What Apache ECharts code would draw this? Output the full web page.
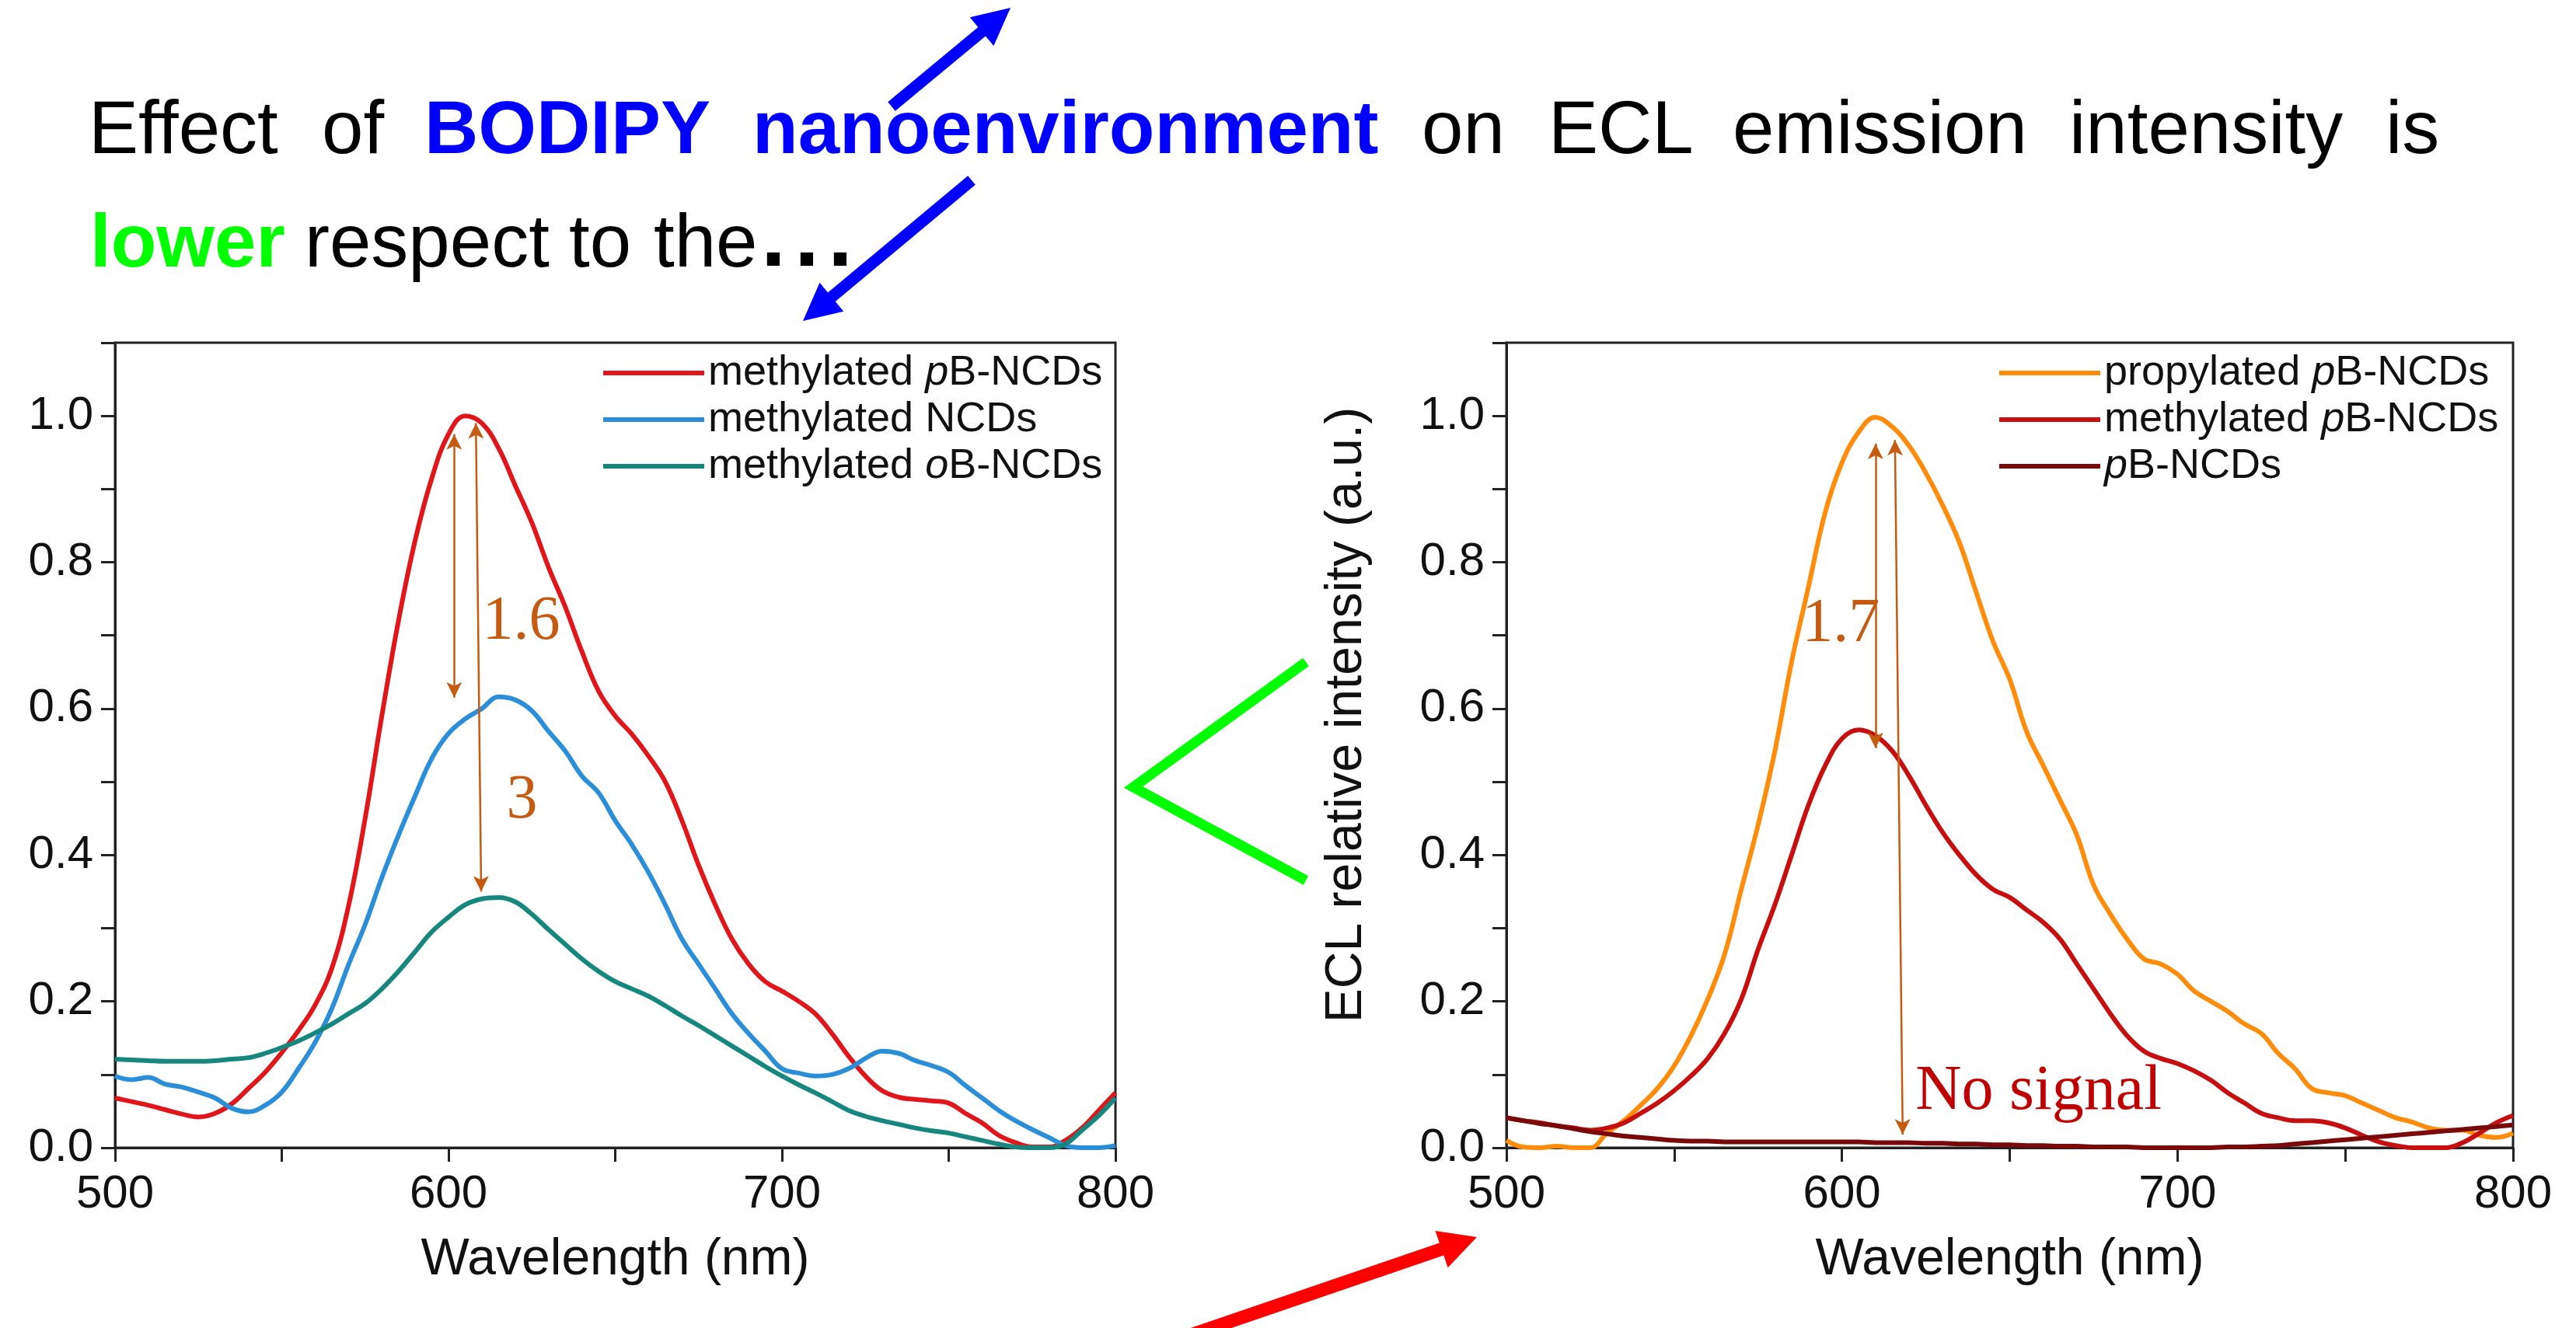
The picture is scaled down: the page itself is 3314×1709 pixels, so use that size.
<!DOCTYPE html>
<html>
<head>
<meta charset="utf-8">
<title>ECL emission spectra</title>
<script src="https://cdn.jsdelivr.net/npm/echarts@6/dist/echarts.min.js"></script>
<style>
  html, body { margin: 0; padding: 0; background: #fff; }
  #chart { width: 3314px; height: 1709px; }
</style>
</head>
<body>
<div id="chart"></div>
<script>
// wavelength grid (nm), shared by every curve
const wavelength = [500, 505, 510, 515, 520, 525, 530, 535, 540, 545, 550, 555, 560, 565, 570, 575, 580, 585, 590, 595,
  600, 605, 610, 615, 620, 625, 630, 635, 640, 645, 650, 655, 660, 665, 670, 675, 680, 685, 690, 695,
  700, 705, 710, 715, 720, 725, 730, 735, 740, 745, 750, 755, 760, 765, 770, 775, 780, 785, 790, 795, 800]

// left panel
const leftMethylPB = [0.068, 0.063, 0.058, 0.052, 0.046, 0.042, 0.047, 0.060, 0.081, 0.103, 0.130, 0.160, 0.195, 0.245, 0.330, 0.450, 0.590, 0.720, 0.830, 0.915,
  0.975, 1.000, 0.990, 0.956, 0.905, 0.854, 0.793, 0.739, 0.678, 0.624, 0.590, 0.565, 0.535, 0.500, 0.447, 0.386, 0.332, 0.285, 0.251, 0.227,
  0.214, 0.200, 0.183, 0.156, 0.125, 0.098, 0.078, 0.069, 0.066, 0.064, 0.061, 0.047, 0.034, 0.017, 0.007, 0.001, 0.001, 0.010, 0.027, 0.051, 0.075]
const leftMethylNCD = [0.098, 0.093, 0.096, 0.087, 0.083, 0.076, 0.068, 0.054, 0.049, 0.058, 0.076, 0.108, 0.144, 0.190, 0.250, 0.305, 0.369, 0.427, 0.481, 0.532,
  0.566, 0.586, 0.600, 0.616, 0.612, 0.597, 0.569, 0.542, 0.508, 0.485, 0.447, 0.414, 0.376, 0.332, 0.285, 0.251, 0.217, 0.183, 0.156, 0.132,
  0.108, 0.102, 0.098, 0.100, 0.108, 0.122, 0.132, 0.129, 0.119, 0.112, 0.103, 0.085, 0.068, 0.051, 0.037, 0.025, 0.014, 0.003, 0.000, 0.000, 0.003]
const leftMethylOB = [0.121, 0.120, 0.119, 0.118, 0.118, 0.118, 0.119, 0.121, 0.123, 0.129, 0.137, 0.146, 0.157, 0.169, 0.183, 0.197, 0.217, 0.241, 0.268, 0.295,
  0.315, 0.332, 0.340, 0.342, 0.336, 0.319, 0.298, 0.278, 0.258, 0.241, 0.227, 0.217, 0.207, 0.194, 0.180, 0.167, 0.153, 0.139, 0.125, 0.111,
  0.098, 0.086, 0.075, 0.063, 0.051, 0.043, 0.037, 0.032, 0.027, 0.023, 0.020, 0.015, 0.010, 0.005, 0.001, 0.000, 0.000, 0.005, 0.024, 0.044, 0.068]

// right panel
const rightPropylPB = [0.010, 0.001, 0.000, 0.002, 0.000, 0.000, 0.020, 0.037, 0.058, 0.081, 0.112, 0.153, 0.203, 0.264, 0.353, 0.441, 0.542, 0.664, 0.766, 0.868,
  0.936, 0.978, 0.998, 0.985, 0.959, 0.922, 0.878, 0.827, 0.759, 0.692, 0.640, 0.569, 0.522, 0.475, 0.427, 0.359, 0.319, 0.285, 0.258, 0.251,
  0.237, 0.214, 0.200, 0.186, 0.169, 0.156, 0.129, 0.108, 0.081, 0.075, 0.071, 0.061, 0.051, 0.041, 0.035, 0.027, 0.024, 0.024, 0.017, 0.014, 0.020]
const rightMethylPB = [0.041, 0.037, 0.034, 0.030, 0.027, 0.024, 0.027, 0.034, 0.047, 0.061, 0.078, 0.098, 0.122, 0.156, 0.203, 0.271, 0.332, 0.400, 0.468, 0.522,
  0.559, 0.571, 0.563, 0.542, 0.508, 0.468, 0.431, 0.400, 0.373, 0.353, 0.342, 0.325, 0.308, 0.285, 0.251, 0.217, 0.183, 0.153, 0.132, 0.122,
  0.115, 0.105, 0.092, 0.075, 0.061, 0.047, 0.041, 0.037, 0.037, 0.034, 0.027, 0.017, 0.008, 0.003, 0.000, 0.000, 0.000, 0.007, 0.020, 0.034, 0.044]
const rightPB = [0.041, 0.037, 0.033, 0.030, 0.026, 0.022, 0.019, 0.016, 0.014, 0.012, 0.010, 0.009, 0.009, 0.008, 0.008, 0.008, 0.008, 0.008, 0.008, 0.008,
  0.008, 0.008, 0.007, 0.007, 0.007, 0.006, 0.006, 0.005, 0.005, 0.004, 0.004, 0.003, 0.003, 0.002, 0.002, 0.001, 0.001, 0.001, 0.000, 0.000,
  0.000, 0.000, 0.000, 0.001, 0.001, 0.002, 0.003, 0.005, 0.007, 0.009, 0.011, 0.013, 0.015, 0.017, 0.019, 0.021, 0.023, 0.025, 0.027, 0.029, 0.031]

// tick labels
const xTickLabels = [500, 600, 700, 800]
const yTickLabels = ['0.0', '0.2', '0.4', '0.6', '0.8', '1.0']

// ratio arrows [x1, y1, x2, y2] and their labels [x, y, text]
const leftArrows = [[601.7, 0.975, 601.7, 0.615], [608.2, 0.99, 609.8, 0.35]]
const leftNotes = [[621.8, 0.718, '1.6'], [622, 0.474, '3']]
const rightArrows = [[610, 0.962, 610, 0.546], [615.8, 0.967, 618.1, 0.018]]
const rightNotes = [[599.7, 0.715, '1.7', '#C55A11', 80], [658.6, 0.076, 'No signal', '#C00000', 82]]

const sans = 'Liberation Sans'
const serif = 'Liberation Serif'
const anno = '#C55A11'

const legendText = {
  lMePB: 'methylated {i|p}B-NCDs',
  lMeNCD: 'methylated NCDs',
  lMeOB: 'methylated {i|o}B-NCDs',
  rPrPB: 'propylated {i|p}B-NCDs',
  rMePB: 'methylated {i|p}B-NCDs',
  rPB: '{i|p}B-NCDs',
}

function pairs(values) {
  return wavelength.map((w, i) => [w, values[i]])
}

function xAxisOf(gridIndex) {
  return {
    type: 'value',
    gridIndex: gridIndex,
    min: 500,
    max: 800,
    interval: 50,
    axisLine: { show: true, lineStyle: { color: '#222', width: 3 } },
    axisTick: { show: true, length: 18, lineStyle: { color: '#222', width: 3 } },
    axisLabel: {
      margin: 30,
      fontSize: 60,
      fontFamily: sans,
      color: '#111',
      formatter: (v) => (xTickLabels.includes(Math.round(v)) ? String(Math.round(v)) : ''),
    },
    splitLine: { show: false },
    name: 'Wavelength (nm)',
    nameLocation: 'middle',
    nameGap: 112,
    nameTextStyle: { fontSize: 66, fontFamily: sans, color: '#111' },
  }
}

function yAxisOf(gridIndex) {
  return {
    type: 'value',
    gridIndex: gridIndex,
    min: 0,
    max: 1.1,
    interval: 0.1,
    axisLine: { show: true, lineStyle: { color: '#222', width: 3 } },
    axisTick: { show: true, length: 18, lineStyle: { color: '#222', width: 3 } },
    axisLabel: {
      margin: 28,
      fontSize: 60,
      fontFamily: sans,
      color: '#111',
      formatter: (v) => {
        const s = v.toFixed(1)
        return yTickLabels.includes(s) ? s : ''
      },
    },
    splitLine: { show: false },
  }
}

function legendOf(left, names) {
  return {
    orient: 'vertical',
    left: left,
    top: 450,
    padding: 0,
    itemGap: 0,
    itemWidth: 130,
    itemHeight: 6,
    icon: 'rect',
    selectedMode: false,
    data: names,
    formatter: (name) => legendText[name],
    textStyle: {
      fontSize: 54,
      fontFamily: sans,
      color: '#111',
      lineHeight: 60,
      rich: { i: { fontSize: 54, fontFamily: sans, fontStyle: 'italic', color: '#111', lineHeight: 60 } },
    },
  }
}

function lineSeries(name, values, color, idx) {
  return {
    name: name,
    type: 'line',
    xAxisIndex: idx,
    yAxisIndex: idx,
    data: pairs(values),
    symbol: 'none',
    smooth: 0.4,
    lineStyle: { color: color, width: 6 },
    itemStyle: { color: color },
  }
}

function arrowMarks(arrows) {
  return {
    silent: true,
    symbol: ['arrow', 'arrow'],
    symbolSize: [15, 20],
    label: { show: false },
    lineStyle: { color: anno, width: 2.5, type: 'solid' },
    data: arrows.map((a) => [{ coord: [a[0], a[1]] }, { coord: [a[2], a[3]] }]),
  }
}

function noteMarks(notes) {
  return {
    silent: true,
    symbol: 'circle',
    symbolSize: 1,
    itemStyle: { color: 'rgba(0,0,0,0)' },
    data: notes.map((n) => ({
      name: n[2],
      coord: [n[0], n[1]],
      label: { color: n[3] || anno, fontSize: n[4] || 80 },
    })),
    label: { show: true, position: 'inside', formatter: '{b}', fontFamily: serif, fontSize: 80, color: anno },
  }
}

// filled arrow as a polygon, from tail to tip
function arrowPoly(x1, y1, x2, y2, w, hl, hw) {
  const dx = x2 - x1
  const dy = y2 - y1
  const len = Math.hypot(dx, dy)
  const ux = dx / len
  const uy = dy / len
  const px = -uy
  const py = ux
  const bx = x2 - ux * hl
  const by = y2 - uy * hl
  return [
    [x1 + (px * w) / 2, y1 + (py * w) / 2],
    [bx + (px * w) / 2, by + (py * w) / 2],
    [bx + (px * hw) / 2, by + (py * hw) / 2],
    [x2, y2],
    [bx - (px * hw) / 2, by - (py * hw) / 2],
    [bx - (px * w) / 2, by - (py * w) / 2],
    [x1 - (px * w) / 2, y1 - (py * w) / 2],
  ]
}

function word(text, x, y, color, bold, size) {
  return {
    type: 'text',
    style: {
      text: text,
      x: x,
      y: y,
      fill: color,
      fontSize: size || 96,
      fontFamily: sans,
      fontWeight: bold ? 'bold' : 'normal',
      align: 'left',
      verticalAlign: 'middle',
    },
  }
}

const line1 = 171
const line2 = 317

const chart = echarts.init(document.getElementById('chart'))
chart.setOption({
  animation: false,
  backgroundColor: '#fff',
  grid: [
    { left: 148, top: 441, width: 1287, height: 1036, show: true, borderColor: '#222', borderWidth: 3 },
    { left: 1938, top: 441, width: 1295, height: 1036, show: true, borderColor: '#222', borderWidth: 3 },
  ],
  xAxis: [xAxisOf(0), xAxisOf(1)],
  yAxis: [yAxisOf(0), yAxisOf(1)],
  legend: [legendOf(776, ['lMePB', 'lMeNCD', 'lMeOB']), legendOf(2572, ['rPrPB', 'rMePB', 'rPB'])],
  series: [
    Object.assign(lineSeries('lMePB', leftMethylPB, '#E0161B', 0), {
      markLine: arrowMarks(leftArrows),
      markPoint: noteMarks(leftNotes),
    }),
    lineSeries('lMeNCD', leftMethylNCD, '#2A8FD8', 0),
    lineSeries('lMeOB', leftMethylOB, '#16877F', 0),
    Object.assign(lineSeries('rPrPB', rightPropylPB, '#FF8C0A', 1), {
      markLine: arrowMarks(rightArrows),
      markPoint: noteMarks(rightNotes),
    }),
    lineSeries('rMePB', rightMethylPB, '#C80F0F', 1),
    lineSeries('rPB', rightPB, '#7A0A0A', 1),
  ],
  graphic: [
    // heading, justified across the slide
    word('Effect', 114, line1, '#000', false),
    word('of', 414, line1, '#000', false),
    word('BODIPY', 546, line1, '#0000FF', true),
    word('nanoenvironment', 968, line1, '#0000FF', true),
    word('on', 1829, line1, '#000', false),
    word('ECL', 1992, line1, '#000', false),
    word('emission', 2229, line1, '#000', false),
    word('intensity', 2662, line1, '#000', false),
    word('is', 3069, line1, '#000', false),
    word('lower', 116, line2, '#00FF00', true),
    word('respect', 392, line2, '#000', false),
    word('to', 732, line2, '#000', false),
    word('the', 841, line2, '#000', false),
    word('.', 979, 310, '#000', true, 115),
    word('.', 1022, 310, '#000', true, 115),
    word('.', 1065, 310, '#000', true, 115),
    // y axis title of the right panel
    {
      type: 'text',
      x: 1733,
      y: 920,
      rotation: Math.PI / 2,
      style: {
        text: 'ECL relative intensity (a.u.)',
        fill: '#111',
        fontSize: 66,
        fontFamily: sans,
        align: 'center',
        verticalAlign: 'middle',
      },
    },
    // decorations
    { type: 'polygon', shape: { points: arrowPoly(1147, 137, 1300, 10, 15, 48, 48) }, style: { fill: '#0000FF' } },
    { type: 'polygon', shape: { points: arrowPoly(1250, 232, 1033, 413, 15, 48, 48) }, style: { fill: '#0000FF' } },
    { type: 'polygon', shape: { points: arrowPoly(1409, 1760, 1900, 1592, 17, 48, 50) }, style: { fill: '#FF0000' } },
    {
      type: 'polyline',
      shape: { points: [[1680, 852], [1458, 1013], [1680, 1133]] },
      style: { stroke: '#00FF00', lineWidth: 13, fill: null, lineJoin: 'miter' },
    },
  ],
})
</script>
</body>
</html>
